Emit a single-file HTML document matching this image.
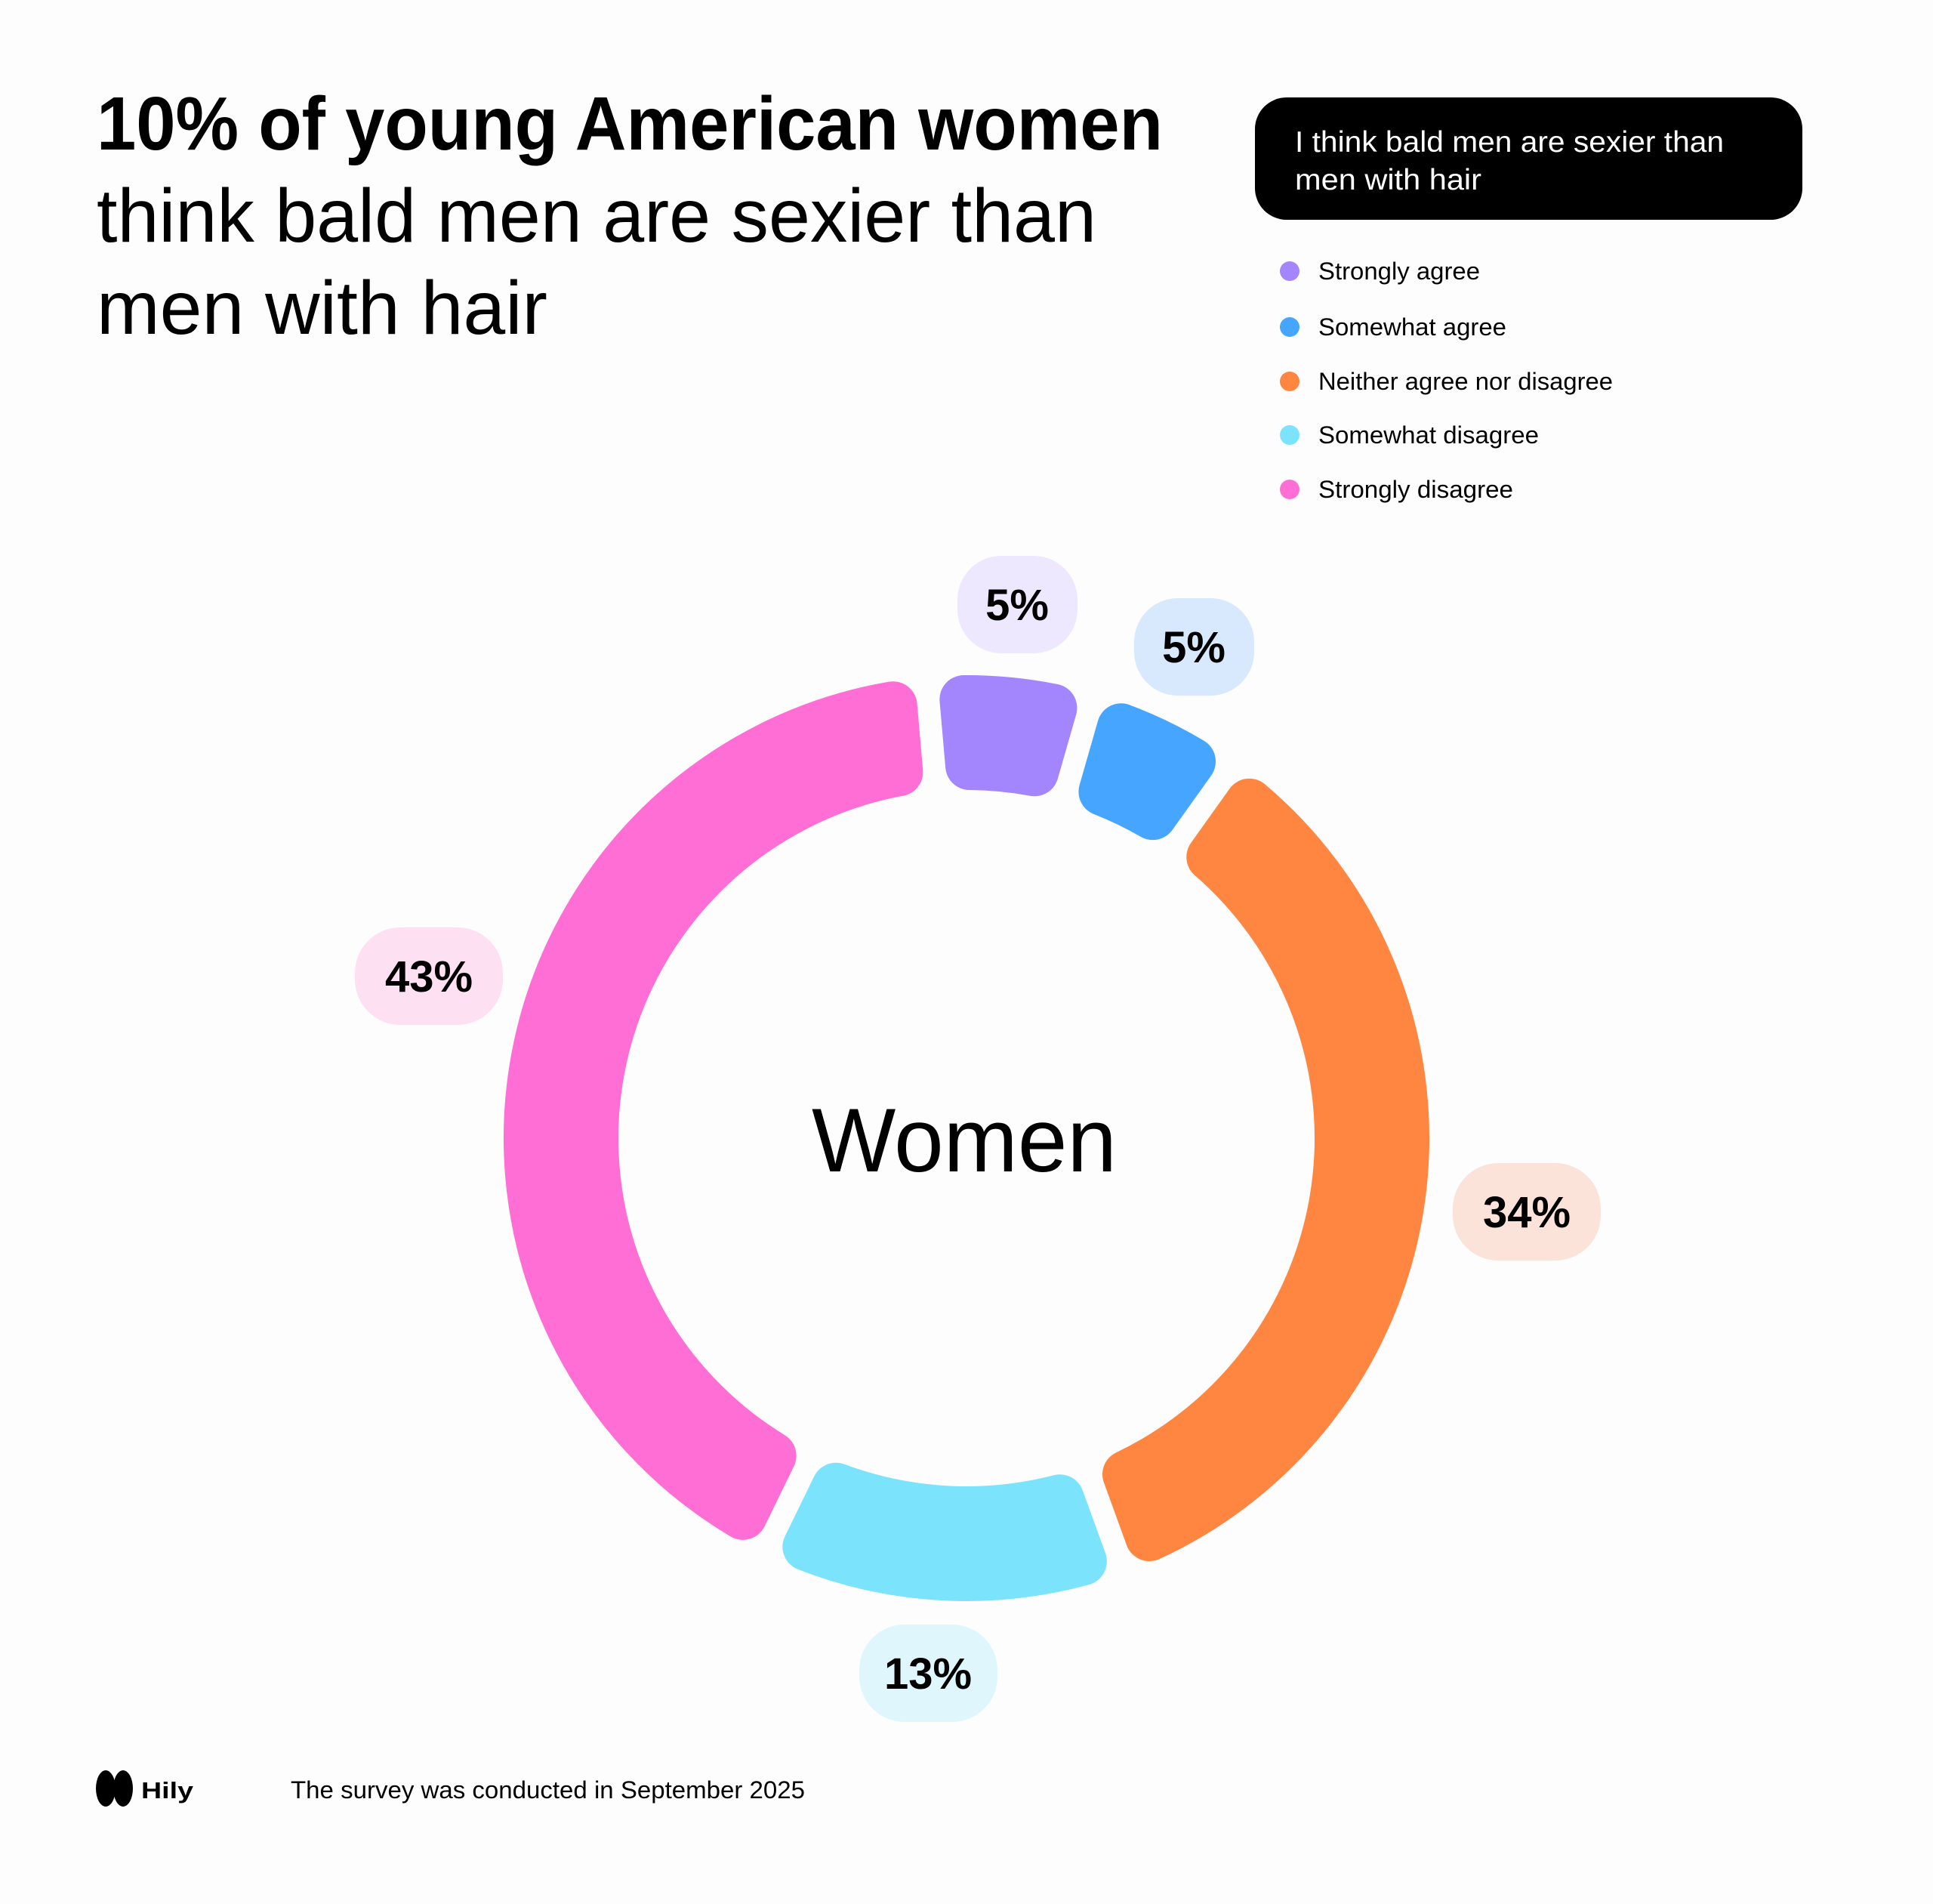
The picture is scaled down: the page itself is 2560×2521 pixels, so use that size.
<!DOCTYPE html>
<html><head><meta charset="utf-8"><style>
html,body{margin:0;padding:0;background:#fdfdfe;}
svg{display:block;}
text{font-family:"Liberation Sans",sans-serif;}
</style></head><body>
<svg id="s" width="2560" height="2521" viewBox="0 0 2560 2521" xmlns="http://www.w3.org/2000/svg">
<rect width="2560" height="2521" fill="#fdfdfe"/>
<text x="128" y="198" font-size="100" font-weight="bold" textLength="1412" lengthAdjust="spacingAndGlyphs">10% of young American women</text>
<text x="128" y="320" font-size="100" textLength="1324" lengthAdjust="spacingAndGlyphs">think bald men are sexier than</text>
<text x="128" y="442" font-size="100" textLength="597" lengthAdjust="spacingAndGlyphs">men with hair</text>

<rect x="1662" y="129" width="725" height="162" rx="42" fill="#000"/>
<text x="1715" y="201" font-size="39" fill="#fff" textLength="568" lengthAdjust="spacingAndGlyphs">I think bald men are sexier than</text>
<text x="1715" y="251" font-size="39" fill="#fff" textLength="247" lengthAdjust="spacingAndGlyphs">men with hair</text>

<circle cx="1708" cy="359" r="13" fill="#a385fe"/>
<circle cx="1708" cy="433" r="13" fill="#46a5fe"/>
<circle cx="1708" cy="505" r="13" fill="#ff8640"/>
<circle cx="1708" cy="576" r="13" fill="#7ce3fd"/>
<circle cx="1708" cy="648" r="13" fill="#ff6ed5"/>
<g font-size="32">
<text x="1746" y="370" textLength="214" lengthAdjust="spacingAndGlyphs">Strongly agree</text>
<text x="1746" y="444" textLength="249" lengthAdjust="spacingAndGlyphs">Somewhat agree</text>
<text x="1746" y="516" textLength="390" lengthAdjust="spacingAndGlyphs">Neither agree nor disagree</text>
<text x="1746" y="587" textLength="292" lengthAdjust="spacingAndGlyphs">Somewhat disagree</text>
<text x="1746" y="659" textLength="258" lengthAdjust="spacingAndGlyphs">Strongly disagree</text>
</g>

<g id="ring"></g>

<text x="1277" y="1551" font-size="120" text-anchor="middle" textLength="404" lengthAdjust="spacingAndGlyphs">Women</text>

<g font-size="58" font-weight="bold" text-anchor="middle">
<rect x="1268" y="736" width="159" height="129" rx="58" fill="#eee8fe"/>
<text x="1347" y="821">5%</text>
<rect x="1502" y="792" width="159" height="129" rx="58" fill="#d8e9fe"/>
<text x="1581" y="877">5%</text>
<rect x="1924" y="1540" width="196" height="129" rx="60" fill="#fce3d9"/>
<text x="2022" y="1625">34%</text>
<rect x="1138" y="2151" width="183" height="129" rx="60" fill="#e0f6fd"/>
<text x="1229" y="2236">13%</text>
<rect x="470" y="1228" width="196" height="129" rx="60" fill="#fee0f3"/>
<text x="568" y="1313">43%</text>
</g>

<g fill="#000">
<ellipse cx="140" cy="2368" rx="13" ry="24"/>
<ellipse cx="163" cy="2368" rx="13" ry="24"/>
<rect x="140" y="2358" width="23" height="20"/>
</g>
<text x="187" y="2381" font-size="31" font-weight="bold" textLength="69" lengthAdjust="spacingAndGlyphs">Hily</text>
<text x="385" y="2381" font-size="32" textLength="681" lengthAdjust="spacingAndGlyphs">The survey was conducted in September 2025</text>
</svg>
<script>
(function(){
var cx=1280,cy=1507,RO=613,RI=461,g=30,rr=32;
var Ro=RO-rr,Ri=RI+rr,d=g/2+rr;
function pt(r,th,side){var t=th*Math.PI/180;var u=[Math.sin(t),-Math.cos(t)],n=[Math.cos(t),Math.sin(t)];var L=Math.sqrt(r*r-d*d);return [cx+L*u[0]+side*d*n[0],cy+L*u[1]+side*d*n[1]];}
function seg(a0,a1,col){
 var p1=pt(Ro,a0,1),p2=pt(Ro,a1,-1),p3=pt(Ri,a1,-1),p4=pt(Ri,a0,1);
 var large=(a1-a0)>180?1:0;
 var dd="M"+p1+" A"+Ro+" "+Ro+" 0 "+large+" 1 "+p2+" L"+p3+" A"+Ri+" "+Ri+" 0 "+large+" 0 "+p4+" Z";
 var p=document.createElementNS("http://www.w3.org/2000/svg","path");
 p.setAttribute("d",dd);p.setAttribute("fill",col);p.setAttribute("stroke",col);
 p.setAttribute("stroke-width",2*rr);p.setAttribute("stroke-linejoin","round");
 document.getElementById("ring").appendChild(p);
}
seg(-5,16,"#a385fe");
seg(16,35.5,"#46a5fe");
seg(35.5,160,"#ff8640");
seg(160,206,"#7ce3fd");
seg(206,355,"#ff6ed5");
})();
</script>
</body></html>
